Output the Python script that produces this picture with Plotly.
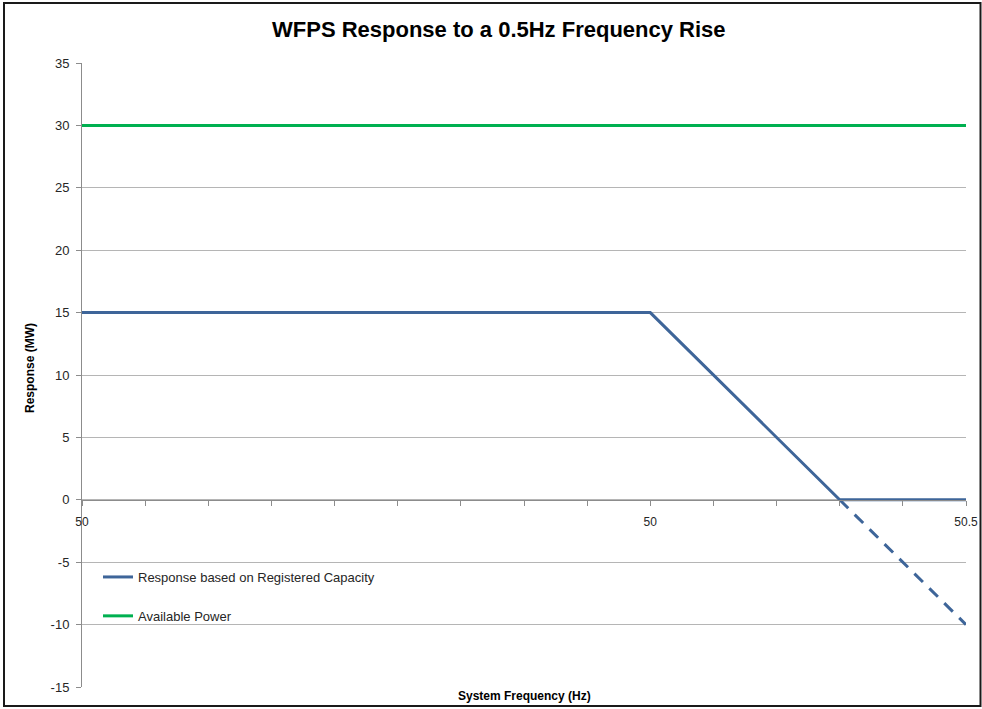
import plotly.graph_objects as go

# ---- data ----
x_steps = list(range(15))  # category positions along the frequency axis
x_tick_labels = ["50", "", "", "", "", "", "", "", "", "50", "", "", "", "", "50.5"]
y_ticks = [-15, -10, -5, 0, 5, 10, 15, 20, 25, 30, 35]
y_tick_labels = ["-15", "-10", "-5", "0", "5", "10", "15", "20", "25", "30", "35"]

resp_x = [0, 9, 12, 14]
resp_y = [15, 15, 0, 0]
resp_ext_x = [12, 14]
resp_ext_y = [0, -10]
avail_x = [0, 14]
avail_y = [30, 30]

BLUE = "#3E6599"
GREEN = "#00B050"
FONT = "Liberation Sans"

fig = go.Figure()
fig.add_trace(go.Scatter(x=resp_ext_x, y=resp_ext_y, mode="lines", showlegend=False,
                         line=dict(color=BLUE, width=3, dash="12px,9px"), hoverinfo="skip"))
fig.add_trace(go.Scatter(x=resp_x, y=resp_y, mode="lines", name="Response based on Registered Capacity",
                         legendgroup="a",
                         line=dict(color=BLUE, width=3)))
fig.add_trace(go.Scatter(x=avail_x, y=avail_y, mode="lines", name="Available Power",
                         legendgroup="b",
                         line=dict(color=GREEN, width=3)))

W, H = 982, 709
L, R, T, B = 82, 16, 63, 22
pw, ph = W - L - R, H - T - B

def px_x(p):
    return (p - L) / pw

def px_y(p):
    return (H - B - p) / ph

fig.update_layout(
    width=W, height=H,
    margin=dict(l=L, r=R, t=T, b=B, autoexpand=False),
    paper_bgcolor="white", plot_bgcolor="white",
    font=dict(family=FONT, size=13, color="#404040"),
    showlegend=True,
    legend=dict(x=px_x(98), y=px_y(562), xanchor="left", yanchor="top",
                bgcolor="rgba(0,0,0,0)", font=dict(size=13, color="#262626"),
                tracegroupgap=19, traceorder="grouped"),
    xaxis=dict(range=[0, 14], tickvals=x_steps, ticktext=x_tick_labels, automargin=False,
               showgrid=False, zeroline=False, showline=True, linecolor="#8C8C8C", linewidth=1,
               ticks="outside", ticklen=5, tickcolor="#8C8C8C", ticklabelstandoff=6,
               anchor="free", position=(0 - (-15)) / 50,
               tickfont=dict(size=12, color="#262626")),
    yaxis=dict(range=[-15, 35], tickvals=y_ticks, ticktext=y_tick_labels, automargin=False,
               showgrid=True, gridcolor="#B5B5B5", gridwidth=1, zeroline=False,
               showline=True, linecolor="#8C8C8C", linewidth=1,
               ticks="outside", ticklen=5, tickcolor="#8C8C8C", ticklabelstandoff=4,
               tickfont=dict(size=13, color="#262626")),
)

fig.add_annotation(text="<b>WFPS Response to a 0.5Hz Frequency Rise</b>", xref="paper", yref="paper",
                   x=px_x(499), y=px_y(30), xanchor="center", yanchor="middle", showarrow=False,
                   font=dict(family=FONT, size=22, color="black"))
fig.add_annotation(text="<b>Response (MW)</b>", xref="paper", yref="paper",
                   x=px_x(30), y=px_y(368), xanchor="center", yanchor="middle", showarrow=False,
                   textangle=-90, font=dict(family=FONT, size=12, color="black"))
fig.add_annotation(text="<b>System Frequency (Hz)</b>", xref="paper", yref="paper",
                   x=px_x(524), y=px_y(696), xanchor="center", yanchor="middle", showarrow=False,
                   font=dict(family=FONT, size=12, color="black"))

# outer chart border
fig.add_shape(type="rect", xref="paper", yref="paper",
              x0=px_x(4), x1=px_x(980.5), y0=px_y(706), y1=px_y(3),
              line=dict(color="#1A1A1A", width=2), fillcolor="rgba(0,0,0,0)", layer="above")

fig.write_html("out.html", config={"displayModeBar": False})

# remove default page margin so the figure sits at the window's top-left
with open("out.html", "r", encoding="utf-8") as f:
    html = f.read()
html = html.replace("<head>", "<head><style>html,body{margin:0;padding:0;overflow:hidden;}</style>", 1)
with open("out.html", "w", encoding="utf-8") as f:
    f.write(html)
